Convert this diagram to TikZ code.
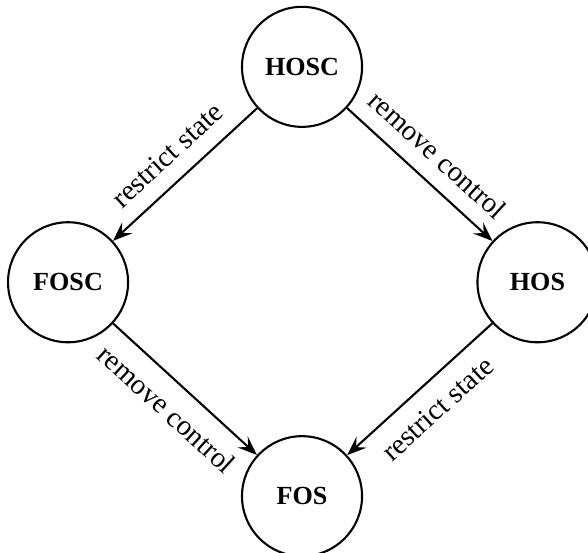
\documentclass[tikz,border=0pt]{standalone}
\usepackage{fontspec}
\setmainfont{Liberation Serif}
\usetikzlibrary{arrows.meta}

\begin{document}
\begin{tikzpicture}[state/.style={draw, thick, circle, minimum size=1.616cm, inner sep=0pt, font=\bfseries},
    trans/.style={-{Stealth[length=2.6mm, width=2mm, inset=1mm]}, thick},
    lbl/.style={sloped, inner sep=6pt, font=\fontsize{11}{13}\selectfont}]
    \useasboundingbox (-0.916,-3.637) rectangle (7.0,3.80);
    \node[state] (FOSC) at (0,0) {FOSC};
    \node[state] (HOSC) at (3.15,2.9) {HOSC};
    \node[state] (HOS) at (6.32,0) {HOS};
    \node[state] (FOS) at (3.15,-2.88) {FOS};
    \draw [trans] (HOSC) -- node[lbl, above] {restrict state} (FOSC);
    \draw [trans] (HOSC) -- node[lbl, above] {remove control} (HOS);
    \draw [trans] (FOSC) -- node[lbl, below] {remove control} (FOS);
    \draw [trans] (HOS) -- node[lbl, below] {restrict state} (FOS);
\end{tikzpicture}
\end{document}
